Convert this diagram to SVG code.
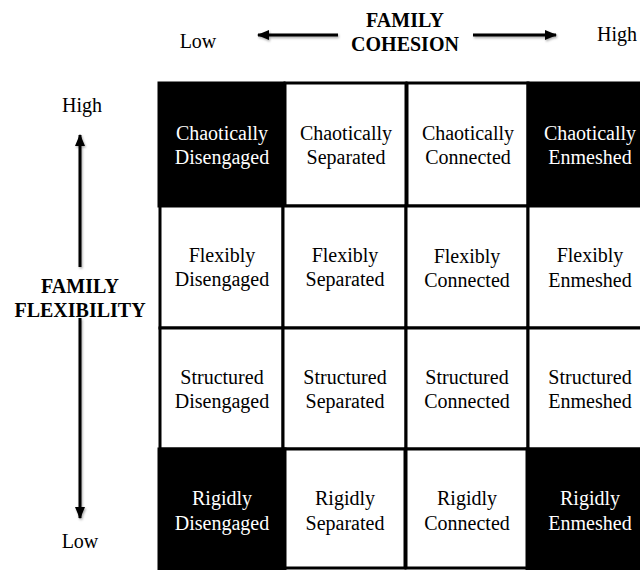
<svg xmlns="http://www.w3.org/2000/svg" width="640" height="570" viewBox="0 0 640 570">
  <style>
    text { font-family: "Liberation Serif", "Times New Roman", serif; font-size: 20px; text-anchor: middle; }
    .bold { font-weight: bold; }
    .dark rect { fill: #000; stroke: #000; stroke-width: 3; }
    .dark text { fill: #fff; }
    .light rect { fill: #fff; stroke: #000; stroke-width: 3; }
    .light text { fill: #000; }
    .axis { stroke: #000; stroke-width: 3; fill: none; }
  </style>
  <defs>
    <marker id="head" viewBox="0 0 12 10" refX="11" refY="5" markerWidth="12" markerHeight="10" markerUnits="userSpaceOnUse" orient="auto">
      <path d="M0,0 L12,5 L0,10 Z" fill="#000"/>
    </marker>
    <filter id="shadow" filterUnits="userSpaceOnUse" x="0" y="0" width="640" height="570">
      <feDropShadow dx="1" dy="1.5" stdDeviation="1" flood-color="#000" flood-opacity="0.35"/>
    </filter>
  </defs>

  <rect width="640" height="570" fill="#fff"/>

  <!-- axis titles and end labels -->
  <g id="cohesion-axis">
    <text x="198" y="48">Low</text>
    <text x="617" y="41">High</text>
    <text x="405" y="27" class="bold">FAMILY</text>
    <text x="405" y="51" class="bold">COHESION</text>
  </g>
  <g id="flexibility-axis">
    <text x="82" y="112">High</text>
    <text x="80" y="548">Low</text>
    <text x="80" y="293" class="bold">FAMILY</text>
    <text x="80" y="317" class="bold">FLEXIBILITY</text>
  </g>

  <!-- direction arrows -->
  <g id="connectors" filter="url(#shadow)">
    <line class="axis" x1="338" y1="35" x2="258" y2="35" marker-end="url(#head)"/>
    <line class="axis" x1="473" y1="35" x2="556" y2="35" marker-end="url(#head)"/>
    <line class="axis" x1="80" y1="267" x2="80" y2="135" marker-end="url(#head)"/>
    <line class="axis" x1="80" y1="318" x2="80" y2="518" marker-end="url(#head)"/>
  </g>

  <!-- row 1: chaotic -->
  <g id="chaotically-disengaged" class="dark">
    <rect x="159" y="83" width="125" height="123"/>
    <text x="222" y="140">Chaotically</text><text x="222" y="164">Disengaged</text>
  </g>
  <g id="chaotically-separated" class="light">
    <rect x="285" y="83" width="121" height="123"/>
    <text x="346" y="140">Chaotically</text><text x="346" y="164">Separated</text>
  </g>
  <g id="chaotically-connected" class="light">
    <rect x="407" y="83" width="121" height="123"/>
    <text x="468" y="140">Chaotically</text><text x="468" y="164">Connected</text>
  </g>
  <g id="chaotically-enmeshed" class="dark">
    <rect x="528" y="83" width="124" height="123"/>
    <text x="590" y="140">Chaotically</text><text x="590" y="164">Enmeshed</text>
  </g>

  <!-- row 2: flexible -->
  <g id="flexibly-disengaged" class="light">
    <rect x="160" y="206" width="123" height="122"/>
    <text x="222" y="262">Flexibly</text><text x="222" y="286">Disengaged</text>
  </g>
  <g id="flexibly-separated" class="light">
    <rect x="283" y="206" width="123" height="122"/>
    <text x="345" y="262">Flexibly</text><text x="345" y="286">Separated</text>
  </g>
  <g id="flexibly-connected" class="light">
    <rect x="406" y="206" width="122" height="122"/>
    <text x="467" y="263">Flexibly</text><text x="467" y="287">Connected</text>
  </g>
  <g id="flexibly-enmeshed" class="light">
    <rect x="528" y="206" width="124" height="122"/>
    <text x="590" y="262">Flexibly</text><text x="590" y="287">Enmeshed</text>
  </g>

  <!-- row 3: structured -->
  <g id="structured-disengaged" class="light">
    <rect x="160" y="328" width="123" height="121"/>
    <text x="222" y="384">Structured</text><text x="222" y="408">Disengaged</text>
  </g>
  <g id="structured-separated" class="light">
    <rect x="283" y="328" width="123" height="121"/>
    <text x="345" y="384">Structured</text><text x="345" y="408">Separated</text>
  </g>
  <g id="structured-connected" class="light">
    <rect x="406" y="328" width="122" height="121"/>
    <text x="467" y="384">Structured</text><text x="467" y="408">Connected</text>
  </g>
  <g id="structured-enmeshed" class="light">
    <rect x="528" y="328" width="124" height="121"/>
    <text x="590" y="384">Structured</text><text x="590" y="408">Enmeshed</text>
  </g>

  <!-- row 4: rigid -->
  <g id="rigidly-disengaged" class="dark">
    <rect x="159" y="449" width="126" height="125"/>
    <text x="222" y="505">Rigidly</text><text x="222" y="530">Disengaged</text>
  </g>
  <g id="rigidly-separated" class="light">
    <rect x="285" y="449" width="120" height="119"/>
    <text x="345" y="505">Rigidly</text><text x="345" y="530">Separated</text>
  </g>
  <g id="rigidly-connected" class="light">
    <rect x="406" y="449" width="122" height="119"/>
    <text x="467" y="505">Rigidly</text><text x="467" y="530">Connected</text>
  </g>
  <g id="rigidly-enmeshed" class="dark">
    <rect x="527" y="449" width="125" height="125"/>
    <text x="590" y="505">Rigidly</text><text x="590" y="530">Enmeshed</text>
  </g>
</svg>
